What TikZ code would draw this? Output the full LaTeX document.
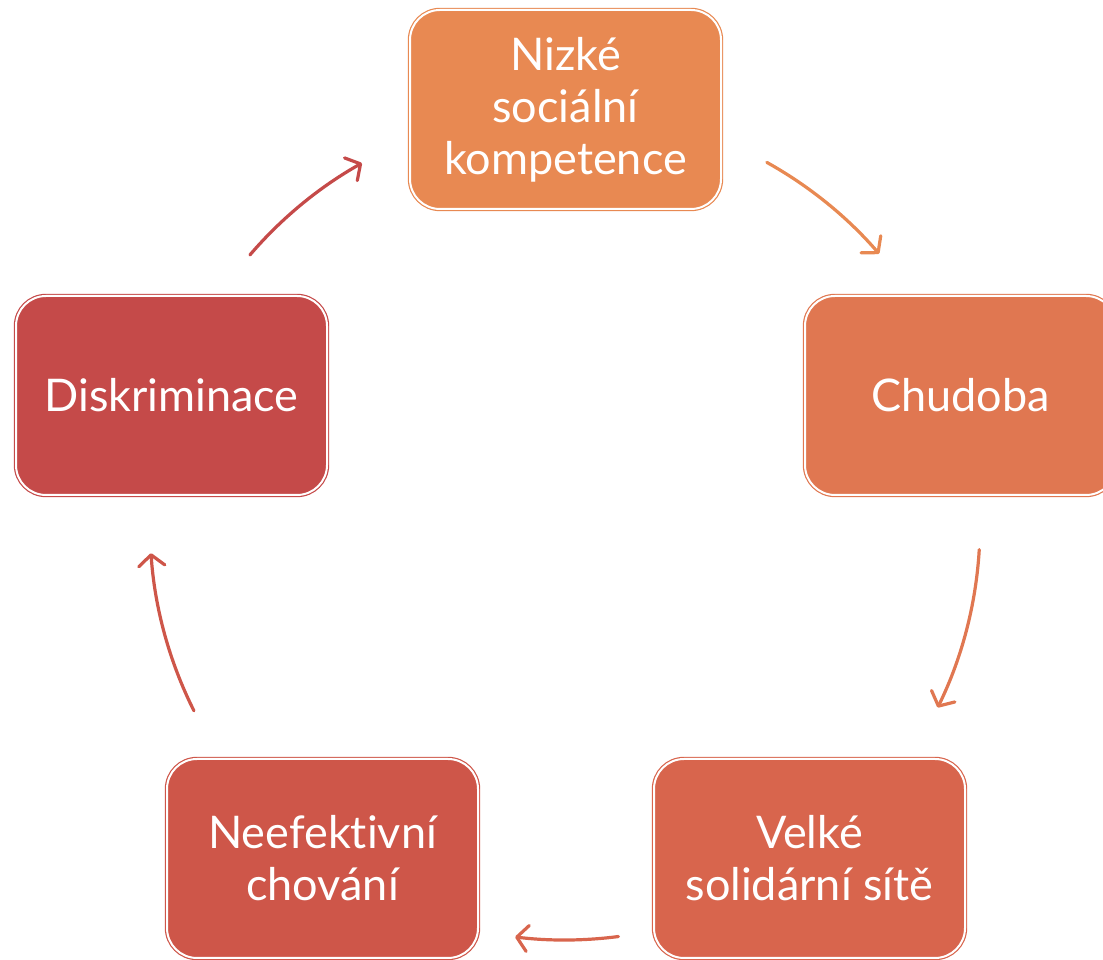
\documentclass[tikz,border=0pt]{standalone}
\usepackage{fontspec}
\setmainfont[Ligatures=NoCommon]{Lato}
\usetikzlibrary{arrows.meta}
\definecolor{nizkecol}{RGB}{232,137,82}
\definecolor{chudobacol}{RGB}{224,119,81}
\definecolor{velkecol}{RGB}{216,101,77}
\definecolor{neefcol}{RGB}{206,86,73}
\definecolor{diskrcol}{RGB}{197,74,73}
\begin{document}
\begin{tikzpicture}[x=1pt, y=1pt,
    stepbox/.style={draw=#1, fill=#1, double=white, double distance=2pt, line width=1.2pt,
        rounded corners=30pt, minimum width=311pt, minimum height=199pt,
        text=white, align=center, font=\fontsize{45}{52}\selectfont},
    cyclearrow/.style={draw=#1, line width=3.2pt, line cap=round,
        -{Straight Barb[length=11pt, width=26pt, round]}}]

        \useasboundingbox (0,0) rectangle (1103,960);

        \node[name=nizke, stepbox=nizkecol] at (565.5,850.5) {Nizké\\sociální\\kompetence};
        \node[name=chudoba, stepbox=chudobacol] at (960.5,564.5) {Chudoba};
        \node[name=velke, stepbox=velkecol] at (809.5,101.5) {Velké\\solidární sítě};
        \node[name=neef, stepbox=neefcol] at (322.5,101.5) {Neefektivní\\chování};
        \node[name=diskr, stepbox=diskrcol] at (171.5,564.5) {Diskriminace};

        \coordinate (hub) at (565,435);
        \foreach \name/\from/\to/\col in {a/139.4/119.3/diskrcol, b/60.9/40.8/nizkecol,
            c/-3.4/-26.1/chudobacol, d/-82.6/-96.9/velkecol, e/206.6/183.9/neefcol}
            {
                \path (hub) ++(\from:415) coordinate (\name);
                \draw[cyclearrow=\col] (\name) arc[start angle=\from, end angle=\to, radius=415];
            }
    \end{tikzpicture}
\end{document}
